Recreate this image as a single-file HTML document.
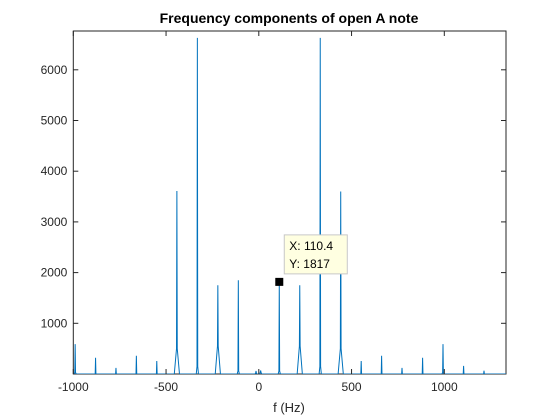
<!DOCTYPE html>
<html><head><meta charset="utf-8"><style>
body{margin:0;background:#fff;}
svg{display:block;font-family:"Liberation Sans","DejaVu Sans",sans-serif;}
</style></head><body>
<svg id="chart" width="560" height="420" viewBox="0 0 560 420" xmlns="http://www.w3.org/2000/svg">
<rect width="560" height="420" fill="#fff"/>
<text x="289" y="23" text-anchor="middle" font-size="14" font-weight="bold" fill="#000">Frequency components of open A note</text>
<g id="plot"></g>
<text x="289" y="412" text-anchor="middle" font-size="13" fill="#262626">f (Hz)</text>
</svg>
<script>
const peakFreqs = [-1210,-1100,-990,-880,-770,-660,-550,-441.6,-331.2,-220.8,-110.4,-15,10,110.4,220.8,331.2,441.6,552,662,772,883,993,1104,1214];
const peakValues = [60,160,590,320,120,360,255,3610,6630,1750,1850,60,70,1817,1750,6630,3600,255,360,120,320,590,160,65];
const shoulderValues = [0,0,30,0,0,0,0,500,150,550,60,20,30,60,550,150,500,0,0,0,0,30,0,0];
const xTicks = [-1000,-500,0,500,1000];
const yTicks = [1000,2000,3000,4000,5000,6000];
const tipX = 110.4, tipY = 1817;

const L=73.3,R=506,T=31,B=374;
const xMin=-1000, xMax=(R-L)/0.1855-1000;
const yMax=(B-T)/0.0507;
const xs=v=>L+(v-xMin)*(R-L)/(xMax-xMin);
const ys=v=>B-v*(B-T)/yMax;
const NS="http://www.w3.org/2000/svg";
const g=document.getElementById('plot');
function mk(t,a){const e=document.createElementNS(NS,t);for(const k in a)e.setAttribute(k,a[k]);g.appendChild(e);return e;}

const box=mk('rect',{x:L,y:T,width:R-L,height:B-T,fill:'none',stroke:'#262626','stroke-width':1});



let d='M'+xs(xMin)+','+ys(0);
peakFreqs.forEach((f,i)=>{
  if(f<xMin)return;
  const s=shoulderValues[i], w=s>300?14:6;
  d+=' L'+xs(f-w)+','+ys(0)+' L'+xs(f-2)+','+ys(s)+' L'+xs(f)+','+ys(peakValues[i])+' L'+xs(f+2)+','+ys(s)+' L'+xs(f+w)+','+ys(0);
});
d+=' L'+xs(xMax)+','+ys(0);
const clip=mk('clipPath',{id:'pc'});
const cr=document.createElementNS(NS,'rect');cr.setAttribute('x',L);cr.setAttribute('y',T);cr.setAttribute('width',R-L);cr.setAttribute('height',B-T);clip.appendChild(cr);
const line=mk('path',{d:d,fill:'none',stroke:'#0072bd','stroke-width':1,'clip-path':'url(#pc)'});



xTicks.forEach(v=>{
  const x=xs(v);
  mk('line',{x1:x,x2:x,y1:B,y2:B-5,stroke:'#262626'});
  mk('line',{x1:x,x2:x,y1:T,y2:T+5,stroke:'#262626'});
  const t=mk('text',{x:x,y:B+17,'text-anchor':'middle','font-size':12,fill:'#262626'});
  t.textContent=v;
  
  
});
yTicks.forEach(v=>{
  const y=ys(v);
  mk('line',{x1:L,x2:L+5,y1:y,y2:y,stroke:'#262626'});
  mk('line',{x1:R,x2:R-5,y1:y,y2:y,stroke:'#262626'});
  const t=mk('text',{x:L-6,y:y+4,'text-anchor':'end','font-size':12,fill:'#262626'});
  t.textContent=v;
  
  
});

const mx=xs(tipX), my=ys(tipY);
const mark=mk('rect',{x:mx-4,y:my-4,width:8,height:8,fill:'#000'});


const tb=mk('rect',{x:mx+5,y:my-47,width:63,height:39,fill:'#ffffe1',stroke:'#c8c8c8'});


const t1=mk('text',{x:mx+10,y:my-32,'font-size':12,fill:'#000'});t1.textContent='X: '+tipX;


const t2=mk('text',{x:mx+10,y:my-14,'font-size':12,fill:'#000'});t2.textContent='Y: '+tipY;


</script>
</body></html>
